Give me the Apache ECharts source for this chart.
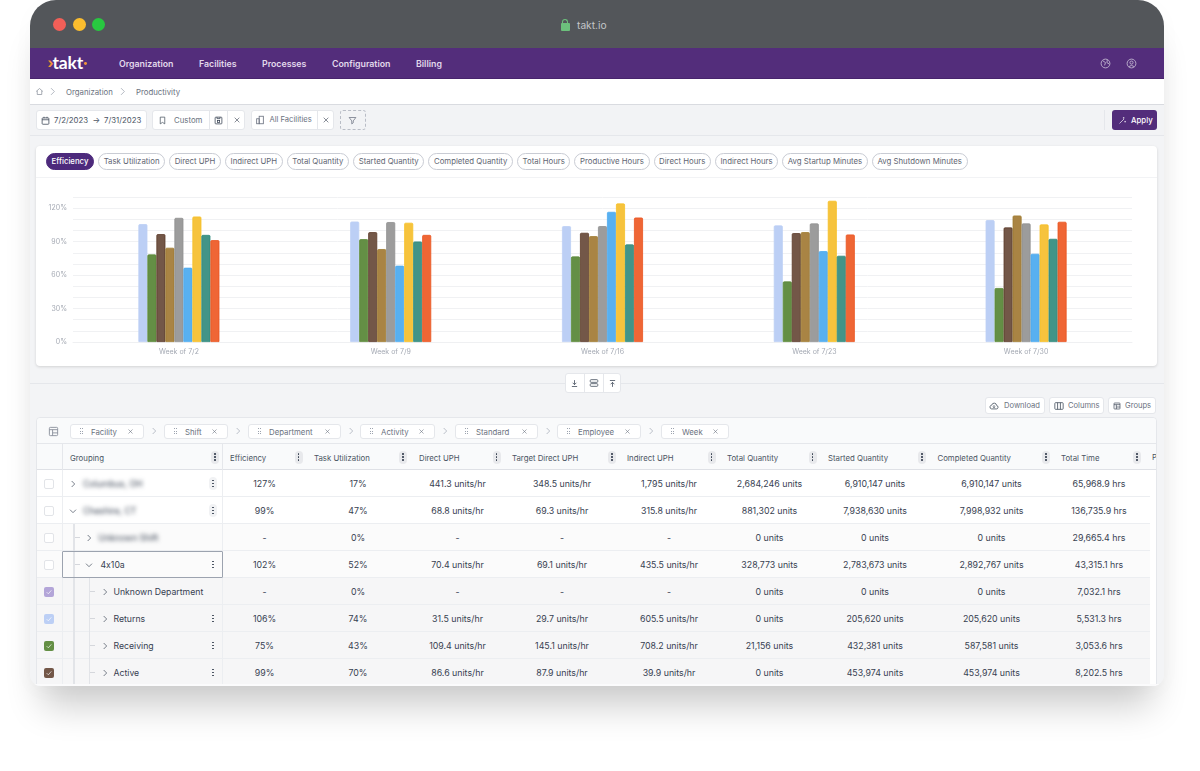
<!DOCTYPE html>
<html>
<head>
<meta charset="utf-8">
<title>takt.io</title>
<script src="https://cdn.jsdelivr.net/npm/echarts@6/dist/echarts.min.js"></script>
<style>
  html, body { margin: 0; padding: 0; background: #fff; width: 1200px; height: 771px; overflow: hidden; font-family: Inter, "Noto Sans", sans-serif; font-feature-settings: 'calt' 0; }
  #win { position: absolute; left: 30px; top: 0; width: 1134px; height: 686px; border-radius: 26px 26px 11px 11px; overflow: hidden; background: #f3f4f6;
    box-shadow: 0 32px 36px -12px rgba(0,0,0,.2), 0 4px 24px rgba(0,0,0,.025); }
  #page { position: absolute; left: -30px; top: 0; width: 1200px; height: 771px; }
  .b { position: absolute; box-sizing: border-box; }
  .t { position: absolute; white-space: nowrap; line-height: 12px; transform: translateY(-50%); }
  .c { transform: translate(-50%, -50%); }
  .btn { background: #fff; border: 1px solid #e5e7eb; border-radius: 3px; }
  .chips { position: absolute; left: 46px; top: 153px; display: flex; gap: 4px; }
  .chip { height: 17px; box-sizing: border-box; border: 1px solid #c9ccd4; border-radius: 9px; padding: 0 4.6px; font-size: 7.8px; line-height: 15px; color: #5f6673; background: #fff; white-space: nowrap; }
  .chip.on { background: #4d2a7c; border-color: #4d2a7c; color: #fff; font-weight: 500; }
  svg { position: absolute; overflow: visible; fill: none; }
</style>
</head>
<body>
<div id="win"><div id="page"></div></div>
<script>
// chart data
const weeks = ['Week of 7/2', 'Week of 7/9', 'Week of 7/16', 'Week of 7/23', 'Week of 7/30'];
const returnsEff = [105.7, 108, 103.9, 104.5, 109.3];
const receivingEff = [78.5, 92.2, 76.7, 54.3, 48.4];
const activeEff = [96.7, 98.5, 97.9, 97.6, 102.7];
const tanEff = [84.5, 83.3, 94.9, 98.5, 113.4];
const greyEff = [111.3, 107.5, 103.9, 106.3, 106.3];
const skyEff = [66.6, 68.4, 116.7, 81.5, 79.1];
const yellowEff = [112.5, 106.9, 124.2, 126.6, 105.4];
const tealEff = [96, 90.1, 87.5, 77.3, 92.5];
const orangeEff = [91.3, 96, 111.6, 96.4, 107.8];
const seriesNames = ['Returns', 'Receiving', 'Active', 'Group 4', 'Group 5', 'Group 6', 'Group 7', 'Group 8', 'Group 9'];
const seriesValues = [returnsEff, receivingEff, activeEff, tanEff, greyEff, skyEff, yellowEff, tealEff, orangeEff];
const fills = ['#bccff5', '#648f45', '#735748', '#a98444', '#9c9c9c', '#58b0f0', '#f6c33d', '#429488', '#ef6635'];
const edges = ['#bccff5', '#5a8a38', '#5c3a28', '#a07c30', '#909090', '#4dabf0', '#f6c026', '#2f8a7c', '#ea5420'];

// page text
const navItems = [['Organization', 119], ['Facilities', 199], ['Processes', 262], ['Configuration', 332], ['Billing', 416]];
const metricChips = ['Efficiency', 'Task Utilization', 'Direct UPH', 'Indirect UPH', 'Total Quantity', 'Started Quantity', 'Completed Quantity', 'Total Hours', 'Productive Hours', 'Direct Hours', 'Indirect Hours', 'Avg Startup Minutes', 'Avg Shutdown Minutes'];
const groupTags = [['Facility', 70, 144], ['Shift', 164, 228], ['Department', 248, 341], ['Activity', 360, 435], ['Standard', 455, 538], ['Employee', 557, 641], ['Week', 661, 729]];
const headers = ['Efficiency', 'Task Utilization', 'Direct UPH', 'Target Direct UPH', 'Indirect UPH', 'Total Quantity', 'Started Quantity', 'Completed Quantity', 'Total Time'];
const headerX = [230, 314, 419, 512, 627, 727, 828, 937.5, 1061];
const headerDots = [298.5, 403, 496.5, 612, 711.5, 812.5, 922, 1046, 1137];
const colCenter = [264.5, 358, 457.5, 562, 669, 769.5, 875, 991.5, 1099];
const rowLabels = ['Columbus, OH', 'Cheshire, CT', 'Unknown Shift', '4x10a', 'Unknown Department', 'Returns', 'Receiving', 'Active'];
const rowDepth = [0, 0, 1, 1, 2, 2, 2, 2];
const rowBlur = [true, true, true, false, false, false, false, false];
const rowOpen = [false, true, false, true, false, false, false, false];
const rowMenu = [true, true, false, true, false, true, true, true];
const rowCheck = ['', '', '', '', '#b3a5d8', '#bccff5', '#648f45', '#735748'];
const rowBg = ['#fff', '#fff', '#fbfbfb', '#fbfbfb', '#f6f6f7', '#f6f6f7', '#f6f6f7', '#f6f6f7'];
const tableRows = [
  ['127%', '17%', '441.3 units/hr', '348.5 units/hr', '1,795 units/hr', '2,684,246 units', '6,910,147 units', '6,910,147 units', '65,968.9 hrs'],
  ['99%', '47%', '68.8 units/hr', '69.3 units/hr', '315.8 units/hr', '881,302 units', '7,938,630 units', '7,998,932 units', '136,735.9 hrs'],
  ['-', '0%', '-', '-', '-', '0 units', '0 units', '0 units', '29,665.4 hrs'],
  ['102%', '52%', '70.4 units/hr', '69.1 units/hr', '435.5 units/hr', '328,773 units', '2,783,673 units', '2,892,767 units', '43,315.1 hrs'],
  ['-', '0%', '-', '-', '-', '0 units', '0 units', '0 units', '7,032.1 hrs'],
  ['106%', '74%', '31.5 units/hr', '29.7 units/hr', '605.5 units/hr', '0 units', '205,620 units', '205,620 units', '5,531.3 hrs'],
  ['75%', '43%', '109.4 units/hr', '145.1 units/hr', '708.2 units/hr', '21,156 units', '432,381 units', '587,581 units', '3,053.6 hrs'],
  ['99%', '70%', '86.6 units/hr', '87.9 units/hr', '39.9 units/hr', '0 units', '453,974 units', '453,974 units', '8,202.5 hrs']
];

const page = document.getElementById('page');

function box(x, y, w, h, css, cls) {
  const d = document.createElement('div');
  d.className = 'b ' + (cls || '');
  d.style.cssText = `left:${x}px;top:${y}px;width:${w}px;height:${h}px;${css || ''}`;
  page.appendChild(d);
  return d;
}
function text(str, x, y, size, color, extra, center) {
  const d = document.createElement('div');
  d.className = 't' + (center ? ' c' : '');
  d.textContent = str;
  d.style.cssText = `left:${x}px;top:${y}px;font-size:${size}px;color:${color};${extra || ''}`;
  page.appendChild(d);
  return d;
}
// icon is drawn in a 12x12 box centred on x,y
function icon(inner, x, y, size, color) {
  const s = size || 10;
  const wrap = document.createElement('div');
  wrap.innerHTML = `<svg viewBox="0 0 12 12" width="${s}" height="${s}" style="left:${x - s / 2}px;top:${y - s / 2}px" stroke="${color || '#6b7280'}" stroke-width="1">${inner}</svg>`;
  page.appendChild(wrap.firstChild);
}
const ICON = {
  chevR: '<path d="M4 1.5 L8.5 6 L4 10.5"/>',
  chevD: '<path d="M1.5 4 L6 8.5 L10.5 4"/>',
  close: '<path d="M2.5 2.5 L9.5 9.5 M9.5 2.5 L2.5 9.5"/>',
  cal: '<rect x="1.5" y="2.5" width="9" height="8.5" rx="1"/><path d="M1.5 5 H10.5 M4 1 V3 M8 1 V3" />',
  mark: '<path d="M3 1.5 H9 V10.5 L6 8.5 L3 10.5 Z"/>',
  save: '<rect x="1.5" y="1.5" width="9" height="9" rx="1"/><rect x="4.5" y="6" width="3" height="2.5"/><path d="M4 1.5 V3.5 H8 V1.5"/>',
  bldg: '<rect x="5" y="1.5" width="5" height="9"/><rect x="2" y="4.5" width="3" height="6"/>',
  funnel: '<path d="M1.5 2 H10.5 L7 6.5 V9 L5 10.5 V6.5 Z"/>',
  home: '<path d="M1.5 6 L6 2 L10.5 6 M3 5 V10 H9 V5"/>',
  globe: '<circle cx="6" cy="6" r="4.8"/><path d="M3 3 L6 5 L5 8 M8 2 L7.5 5 L10 6.5"/>',
  user: '<circle cx="6" cy="6" r="4.8"/><circle cx="6" cy="5" r="1.7"/><path d="M3 9.5 Q6 6.5 9 9.5"/>',
  down: '<path d="M6 1.5 V7.5 M3.5 5 L6 7.5 L8.5 5 M2.5 10 H9.5"/>',
  rows: '<rect x="1.5" y="2" width="9" height="3.2" rx="1"/><rect x="1.5" y="6.8" width="9" height="3.2" rx="1"/>',
  up: '<path d="M6 10.5 V4.5 M3.5 7 L6 4.5 L8.5 7 M2.5 2 H9.5"/>',
  cloud: '<path d="M3 9.5 Q0.8 9 1.2 6.8 Q1.7 5 3.2 5 Q4 2.2 6.6 2.6 Q9 3 9 5.2 Q11.2 5.6 10.8 8 Q10.4 9.5 9 9.5 Z M6 5 V8 M4.8 6.8 L6 8 L7.2 6.8"/>',
  cols: '<rect x="1" y="2" width="10" height="8" rx="1"/><path d="M4.3 2 V10 M7.7 2 V10"/>',
  table: '<rect x="1.5" y="1.5" width="9" height="9" rx="1"/><path d="M1.5 4 H10.5 M5 4 V10.5 M5 7.5 H10.5"/>',
  wand: '<path d="M2 10 L8 4 M7.5 1.5 V3.5 M6.5 2.5 H8.5 M9.5 6.5 V8.5 M8.5 7.5 H10.5"/>'
};
function dots(x, y, color, bg) {
  if (bg) box(x - 4, y - 6.5, 8, 13, `background:${bg};border-radius:4px`);
  [-3, 0, 3].forEach(o => box(x - 0.75, y + o - 0.75, 1.5, 1.5, `background:${color};border-radius:50%`));
}

// window chrome
box(30, 0, 1134, 48, 'background:#53565a');
[['#f25f58', 59.3], ['#fbbd2e', 79], ['#28c840', 98.7]].forEach(l => box(l[1] - 6.5, 17.8, 13, 13, `background:${l[0]};border-radius:50%`));
box(560.5, 23, 9, 8, 'background:#6cc07c;border-radius:1px');
box(562, 18.5, 6, 7, 'border:1.3px solid #6cc07c;border-bottom:none;border-radius:3px 3px 0 0');
text('takt.io', 577, 24.5, 10.2, '#c4c6c8');

// nav bar
box(30, 48, 1134, 31, 'background:#532d7b;border-bottom:1px solid #47246c');
text('›', 47.5, 62.5, 14, '#f0953a', 'font-weight:700');
text('takt', 52.5, 63, 17.5, '#fff', 'font-weight:700;letter-spacing:-.2px;font-family:Lato,Inter,sans-serif');
box(84, 62, 2.8, 2.8, 'background:#f0953a;border-radius:50%');
navItems.forEach(n => text(n[0], n[1], 63.5, 8.8, '#e2d9ec', 'font-weight:600', false));
icon(ICON.globe, 1105, 63, 11, '#c0b3cf');
icon(ICON.user, 1131, 63, 11, '#c0b3cf');

// breadcrumb
box(30, 79, 1134, 26, 'background:#fff;border-bottom:1px solid #d9dbe0');
icon(ICON.home, 39.5, 91.5, 9, '#8b919c');
icon(ICON.chevR, 52, 91.5, 9, '#9ca3af');
text('Organization', 66, 91.5, 7.8, '#6b7280');
icon(ICON.chevR, 122.5, 91.5, 9, '#9ca3af');
text('Productivity', 136, 91.5, 7.8, '#6b7280');

// toolbar
box(30, 105, 1134, 31, 'background:#f2f3f5;border-bottom:1px solid #e5e7eb');
box(36, 110, 110.5, 20, '', 'btn');
icon(ICON.cal, 45, 120, 9, '#374151');
text('7/2/2023', 54, 120, 7.8, '#4b5563');
text('→', 92.5, 120, 8, '#4b5563');
text('7/31/2023', 104, 120, 7.8, '#4b5563');
box(152, 110, 93, 20, '', 'btn');
box(208.5, 110, 1, 20, 'background:#e5e7eb');
box(227, 110, 1, 20, 'background:#e5e7eb');
icon(ICON.mark, 162.5, 120, 9, '#4b5563');
text('Custom', 174, 120, 7.8, '#6b7280');
icon(ICON.save, 218, 120, 9, '#374151');
icon(ICON.close, 236.5, 120, 8, '#4b5563');
box(250.5, 110, 83.5, 20, '', 'btn');
box(316.5, 110, 1, 20, 'background:#e5e7eb');
icon(ICON.bldg, 260, 120, 10, '#6b7280');
text('All Facilities', 269.5, 120, 7.6, '#6b7280');
icon(ICON.close, 325.5, 120, 8, '#4b5563');
box(340, 110, 25.5, 20, 'border:1px dashed #b9bdc6;border-radius:3px');
icon(ICON.funnel, 352.5, 120, 9, '#6b7280');
box(1103.5, 110, 1, 20, 'background:#e5e7eb');
box(1112, 110, 44.5, 20, 'background:#532d7b;border-radius:3px');
icon(ICON.wand, 1122, 120, 9, '#e8e2ef');
text('Apply', 1131, 120, 7.8, '#fff', 'font-weight:500');

// chart card
box(36, 146, 1121, 220, 'background:#fff;border-radius:4px;box-shadow:0 1px 3px rgba(0,0,0,.14)');
box(36, 177, 1121, 1, 'background:#f2f3f5');
const chips = document.createElement('div');
chips.className = 'chips';
metricChips.forEach((c, i) => {
  const d = document.createElement('div');
  d.className = 'chip' + (i === 0 ? ' on' : '');
  d.textContent = c;
  chips.appendChild(d);
});
page.appendChild(chips);

const chartBox = box(36, 178, 1121, 188);
const chart = echarts.init(chartBox);
chart.setOption({
  animation: false,
  grid: { left: 37, right: 25, top: 19, bottom: 24 },
  xAxis: {
    type: 'category',
    data: weeks,
    axisLine: { lineStyle: { color: '#eff0f2' } },
    axisTick: { show: false },
    axisLabel: { color: '#a4a9b3', fontSize: 7, fontFamily: 'Inter', margin: 6 }
  },
  yAxis: {
    type: 'value',
    min: 0,
    max: 130,
    interval: 10,
    axisLine: { show: false },
    axisTick: { show: false },
    splitLine: { lineStyle: { color: '#f0f1f3' } },
    axisLabel: {
      color: '#a4a9b3',
      fontSize: 7,
      fontFamily: 'Inter',
      margin: 6,
      formatter: v => (v % 30 === 0 && v <= 120 ? v + '%' : '')
    }
  },
  series: seriesNames.map((name, i) => ({
    name,
    type: 'bar',
    data: seriesValues[i],
    barWidth: 9,
    barGap: 0,
    itemStyle: { color: fills[i], borderColor: edges[i], borderWidth: 0.8, borderRadius: [1, 1, 0, 0] }
  }))
});

// divider with the three pane buttons
box(30, 383, 1134, 1, 'background:#e5e7eb');
box(565, 373, 55.5, 20, '', 'btn');
box(584, 373, 1, 20, 'background:#e5e7eb');
box(603, 373, 1, 20, 'background:#e5e7eb');
icon(ICON.down, 574.5, 383, 9, '#374151');
icon(ICON.rows, 593.5, 383, 10, '#4b5563');
icon(ICON.up, 612, 383, 9, '#374151');

box(984.5, 397, 60.5, 17, '', 'btn');
icon(ICON.cloud, 994, 405.5, 10, '#4b5563');
text('Download', 1004, 405.5, 7.6, '#6b7280');
box(1048.5, 397, 55.5, 17, '', 'btn');
icon(ICON.cols, 1058.5, 405.5, 10, '#4b5563');
text('Columns', 1068, 405.5, 7.6, '#6b7280');
box(1108, 397, 47.5, 17, '', 'btn');
icon(ICON.table, 1116.5, 405.5, 8, '#374151');
text('Groups', 1125, 405.5, 7.6, '#6b7280');

// table card
box(36, 417, 1120.5, 300, 'background:#fff;border:1px solid #e5e7eb;border-radius:4px');
box(37, 418, 1119, 26, 'background:#f9fafb;border-bottom:1px solid #e5e7eb;border-radius:4px 4px 0 0');
icon(ICON.table, 53, 431, 11, '#8b919c');
groupTags.forEach((g, i) => {
  box(g[1], 423.5, g[2] - g[1], 15, 'background:#fff;border:1px solid #e5e7eb;border-radius:3px');
  [-2.2, 0, 2.2].forEach(o => [-1, 1].forEach(s => box(g[1] + 10.5 + s, 431 + o - .4, .9, .9, 'background:#9ca3af')));
  text(g[0], g[1] + 21, 431.5, 7.8, '#6b7280');
  icon(ICON.close, g[2] - 14, 431, 7, '#6b7280');
  if (i < groupTags.length - 1) icon(ICON.chevR, g[2] + 10, 431, 8, '#9ca3af');
});

// table header
box(37, 444, 1119, 26, 'background:#f9fafb;border-bottom:1px solid #dfe1e6');
box(61.5, 444, 1, 26, 'background:#e5e7eb');
box(222, 444, 1, 26, 'background:#e5e7eb');
text('Grouping', 70, 457.5, 7.8, '#4b5563');
dots(215, 457, '#374151', '#e8e9ec');
headers.forEach((h, i) => {
  text(h, headerX[i], 457.5, 7.8, '#4b5563');
  dots(headerDots[i], 457, '#374151', '#e8e9ec');
});
box(1152, 452, 4, 12, 'overflow:hidden;font-size:8px;color:#4b5563').appendChild(document.createTextNode('P'));

// table rows
tableRows.forEach((row, r) => {
  const y = 470 + r * 27;
  const mid = y + 13.5;
  box(37, y, 1112.5, 27, `background:${rowBg[r]};border-bottom:1px solid #eceef1`);
  box(61.5, y, 1, 27, 'background:#eceef1');
  box(222, y, 1, 27, 'background:#eceef1');
  if (rowCheck[r]) {
    box(44, mid - 5, 10, 10, `background:${rowCheck[r]};border-radius:2px`);
    icon('<path d="M2.5 6.2 L5 8.7 L9.5 3.5"/>', 49, mid, 8, '#fff');
  } else {
    box(44, mid - 5, 10, 10, 'background:#fff;border:1px solid #e2e4e8;border-radius:2px');
  }
  const d = rowDepth[r];
  const chevX = 73 + d * 15.5;
  if (d >= 1) {
    box(73, y, 2, 27, 'background:#e2e4e8');
    if (d === 1) box(75, mid - .5, 5, 1, 'background:#d5d7dc');
  }
  if (d >= 2) {
    box(88.5, y, 1.5, 27, 'background:#e2e4e8');
    box(90, mid - .5, 5, 1, 'background:#d5d7dc');
  }
  icon(rowOpen[r] ? ICON.chevD : ICON.chevR, chevX - (d === 2 ? -.5 : 0), mid, 8, '#374151');
  const label = text(rowLabels[r], chevX + (d === 2 ? 9.5 : rowBlur[r] ? 10 : 12), mid, 8.7, '#374151');
  if (rowBlur[r]) label.style.filter = 'blur(2.2px)';
  if (rowMenu[r]) dots(213, mid, '#374151', r < 2 ? '#f1f2f4' : null);
  row.forEach((v, c) => text(v, colCenter[c], mid, 8.8, '#374151', '', true));
});
box(62, 551, 161, 27, 'border:1px solid #9ca3af;border-radius:1px');
// thin light rim along the bottom of the window
box(30, 684, 1134, 2, 'background:#fbfbfc');

window.addEventListener('resize', () => chart.resize());
</script>
</body>
</html>
